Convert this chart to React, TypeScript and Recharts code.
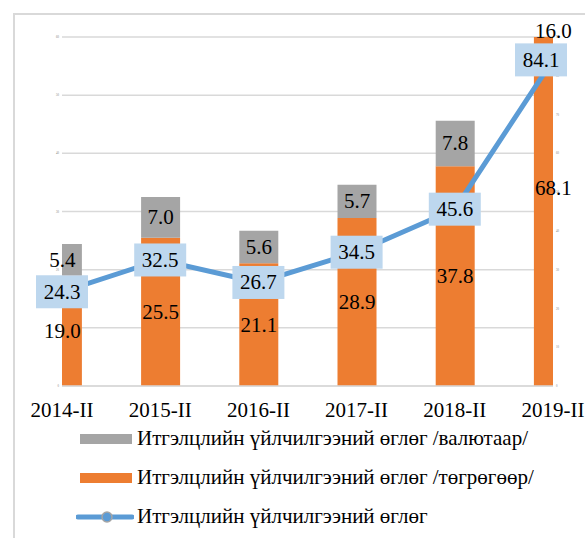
import React from 'react';
import { ComposedChart, Bar, Line, XAxis, YAxis, CartesianGrid, LabelList } from 'recharts';

const categories = ['2014-II', '2015-II', '2016-II', '2017-II', '2018-II', '2019-II'];
const currencyValues = [5.4, 7.0, 5.6, 5.7, 7.8, 16.0];
const tugrikValues = [19.0, 25.5, 21.1, 28.9, 37.8, 68.1];
const totalValues = [24.3, 32.5, 26.7, 34.5, 45.6, 84.1];
const leftTicks = [0, 10, 20, 30, 40, 50, 60];
const rightTicks = [0, 10, 20, 30, 40, 50, 60, 70, 80, 90];

const legendNames = [
  'Итгэлцлийн үйлчилгээний өглөг /валютаар/',
  'Итгэлцлийн үйлчилгээний өглөг /төгрөгөөр/',
  'Итгэлцлийн үйлчилгээний өглөг',
];

// gray segment sits on top of the orange one (drawn as a range bar so it is not truncated)
const data = categories.map((c, i) => ({
  idx: i,
  name: c,
  mnt: tugrikValues[i],
  fx: currencyValues[i],
  fxRange: [tugrikValues[i], tugrikValues[i] + currencyValues[i]],
  total: totalValues[i],
}));

const FONT = '"Liberation Serif", "Times New Roman", serif';
const GRAY = '#A5A5A5';
const ORANGE = '#ED7D31';
const BLUE = '#5B9BD5';
const BOX = '#BDD7EE';

const BarLabel = (props: any) => {
  const { x, y, width, height, value } = props;
  const cx = Number(x) + Number(width) / 2;
  let cy = Number(y) + Number(height) / 2;
  if (cy < 31) cy = 31; // keep labels of clipped bars inside the chart
  return (
    <text x={cx} y={cy} textAnchor="middle" dominantBaseline="central" fontSize={21} fontFamily={FONT} fill="#000">
      {Number(value).toFixed(1)}
    </text>
  );
};

const LineLabel = (props: any) => {
  const { x, y, value } = props;
  const w = 52;
  const h = 33;
  let left = Number(x) - w / 2;
  if (left + w > 567) left = 567 - w;
  const cx = left + w / 2;
  return (
    <g>
      <rect x={left} y={Number(y) - h / 2} width={w} height={h} fill={BOX} />
      <text x={cx} y={Number(y)} textAnchor="middle" dominantBaseline="central" fontSize={21} fontFamily={FONT} fill="#000">
        {Number(value).toFixed(1)}
      </text>
    </g>
  );
};

const CustomLegend = () => (
  <div style={{ position: 'absolute', left: 76, top: 419, fontFamily: FONT, fontSize: 21, color: '#000' }}>
    <div style={{ display: 'flex', alignItems: 'center', height: 39 }}>
      <div style={{ width: 52, height: 10, background: GRAY, marginLeft: 4, marginRight: 5 }} />
      <span>{legendNames[0]}</span>
    </div>
    <div style={{ display: 'flex', alignItems: 'center', height: 39 }}>
      <div style={{ width: 52, height: 10, background: ORANGE, marginLeft: 4, marginRight: 5 }} />
      <span>{legendNames[1]}</span>
    </div>
    <div style={{ display: 'flex', alignItems: 'center', height: 39 }}>
      <svg width={58} height={14} style={{ marginRight: 3 }}>
        <line x1={2} y1={7} x2={56} y2={7} stroke={BLUE} strokeWidth={5} strokeLinecap="round" />
        <circle cx={31} cy={7} r={5} fill={BLUE} stroke={GRAY} strokeWidth={1.5} />
      </svg>
      <span>{legendNames[2]}</span>
    </div>
  </div>
);

export default function App() {
  return (
    <div style={{ position: 'absolute', left: 0, top: 0, width: 585, height: 538, overflow: 'hidden', background: '#fff' }}>
      <div style={{ position: 'absolute', left: 13, top: 13, width: 700, height: 700, border: '2px solid #D9D9D9' }} />
      <ComposedChart
        width={585}
        height={538}
        data={data}
        margin={{ top: 37, right: 24, left: 54, bottom: 122 }}
        style={{ position: 'absolute', left: 0, top: 0 }}
      >
        <CartesianGrid yAxisId="left" xAxisId="main" vertical={false} stroke="#D9D9D9" strokeWidth={1.5} />
        <XAxis
          xAxisId="main"
          dataKey="idx"
          type="number"
          domain={[0, 5]}
          ticks={[0, 1, 2, 3, 4, 5]}
          allowDataOverflow
          tickFormatter={(i: number) => categories[i]}
          axisLine={{ stroke: '#D9D9D9', strokeWidth: 1.5 }}
          tickLine={false}
          tickMargin={10}
          height={30}
          tick={{ fontSize: 21, fontFamily: FONT, fill: '#000' }}
          interval={0}
        />
        <XAxis
          xAxisId="top"
          dataKey="idx"
          type="number"
          domain={[0, 5]}
          ticks={[0, 1, 2, 3, 4, 5]}
          allowDataOverflow
          hide
        />
        <YAxis
          yAxisId="left"
          domain={[0, 60]}
          ticks={leftTicks}
          allowDataOverflow
          width={8}
          axisLine={false}
          tickLine={false}
          tickSize={2}
          tickMargin={1}
          tick={{ fontSize: 3, fill: '#7F7F7F', fontFamily: FONT }}
        />
        <YAxis
          yAxisId="right"
          orientation="right"
          domain={[0, 90]}
          ticks={rightTicks}
          width={8}
          axisLine={false}
          tickLine={false}
          tickSize={2}
          tickMargin={1}
          tick={{ fontSize: 3, fill: '#7F7F7F', fontFamily: FONT }}
        />
        <Bar xAxisId="main" yAxisId="left" dataKey="mnt" fill={ORANGE} barSize={39} isAnimationActive={false} name={legendNames[1]}>
          <LabelList dataKey="mnt" content={<BarLabel />} />
        </Bar>
        <Bar xAxisId="top" yAxisId="left" dataKey="fxRange" fill={GRAY} barSize={39} isAnimationActive={false} name={legendNames[0]}>
          <LabelList dataKey="fx" content={<BarLabel />} />
        </Bar>
        <Line
          xAxisId="main"
          yAxisId="right"
          dataKey="total"
          stroke={BLUE}
          strokeWidth={5}
          dot={false}
          isAnimationActive={false}
          name={legendNames[2]}
        >
          <LabelList dataKey="total" content={<LineLabel />} />
        </Line>
      </ComposedChart>
      <CustomLegend />
    </div>
  );
}
